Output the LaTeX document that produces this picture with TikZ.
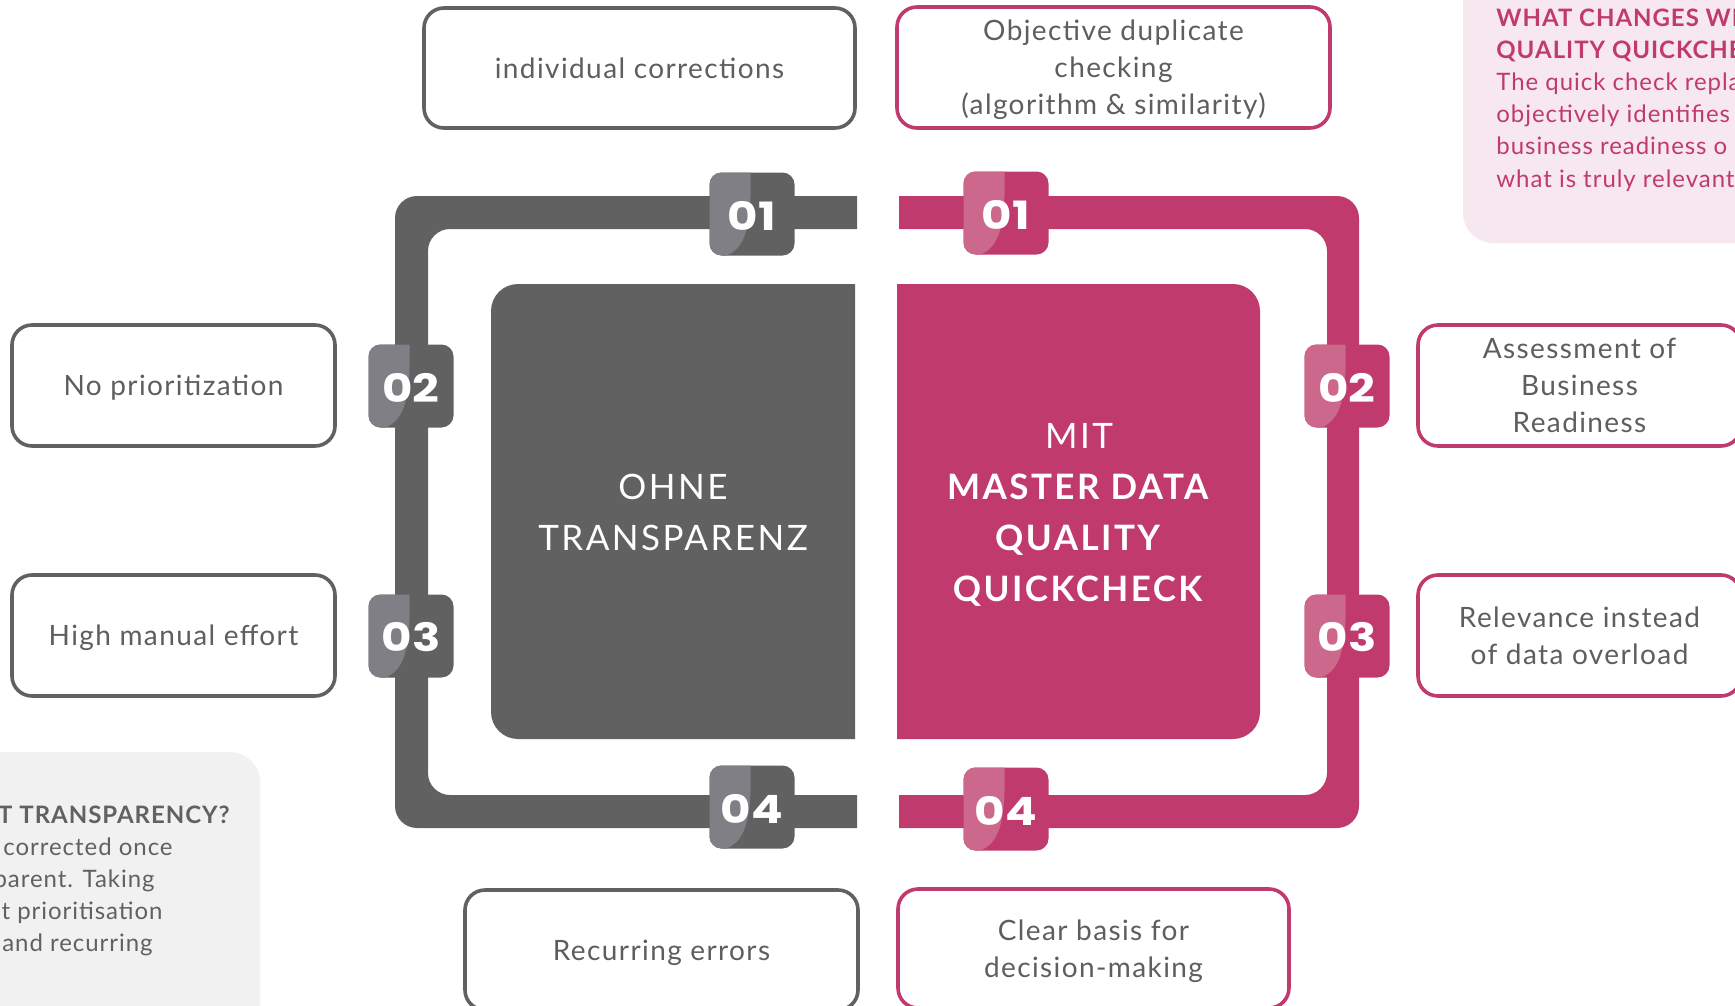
\documentclass[tikz,border=0pt]{standalone}
\usepackage{fontspec}
\setmainfont[LetterSpace=5]{Lato}
\newfontfamily\centerfont[LetterSpace=7]{Lato}
\newfontfamily\infofont[LetterSpace=4]{Lato}
\newfontfamily\badgefont[FakeStretch=1.2]{Poppins}

\definecolor{ohnegray}{HTML}{616161}
\definecolor{ohnelight}{HTML}{7F7F85}
\definecolor{mitpink}{HTML}{C03A6E}
\definecolor{mitlight}{HTML}{CC688C}
\definecolor{labeltext}{HTML}{5E5E5E}
\definecolor{pinkbg}{HTML}{F7E8EF}
\definecolor{graybg}{HTML}{F1F1F1}

\tikzset{
  tagbox/.style={draw=#1, line width=1.8pt, rounded corners=10pt, fill=white,
    text=labeltext, align=center, inner sep=0pt, text depth=0pt,
    font=\fontsize{14}{18.5}\selectfont},
  sidebox/.style={minimum width=161.5pt, minimum height=60.5pt},
  badge/.style 2 args={fill=#1, minimum width=42.5pt, minimum height=41.5pt,
    rounded corners=6pt, inner sep=0pt, text=white, text height=16pt,
    font=\badgefont\bfseries\fontsize{19.5}{19.5}\selectfont,
    path picture={\fill[#2, sharp corners] (path picture bounding box.north west)
      -- ([xshift=-0.75pt]path picture bounding box.north)
      .. controls ([yshift=-8pt]path picture bounding box.center)
      and ([xshift=-4pt,yshift=-17pt]path picture bounding box.center)
      .. ([xshift=-12.75pt]path picture bounding box.south)
      -- (path picture bounding box.south west) -- cycle;}},
  centertext/.style={align=center, text=white, text depth=0pt,
    font=\centerfont\fontsize{17.5}{25.5}\selectfont},
  infotext/.style={inner sep=0pt, font=\infofont\fontsize{12}{16}\selectfont},
}

\begin{document}
\begin{tikzpicture}[x=0.5pt, y=-0.5pt]
    \useasboundingbox (0,0) rectangle (1735,1006);
    \clip (0,0) rectangle (1735,1006);

    % info panels at the edges
    \fill[pinkbg, rounded corners=15pt] (1463,-60) rectangle (1800,243);
    \fill[graybg, rounded corners=15pt] (-60,752) rectangle (260,1070);

    \foreach \txt [count=\i from 0] in {WHAT CHANGES WI, QUALITY QUICKCHE}
        \node[infotext, anchor=base west, text=mitpink, font=\infofont\bfseries\fontsize{12}{16}\selectfont] (pinkhead\i) at (1496,{27+32*\i}) {\txt};
    \foreach \txt [count=\i from 0] in {The quick check repla, objectively identifies, business readiness o, what is truly relevant}
        \node[infotext, anchor=base west, text=mitpink] (pinkbody\i) at (1496,{91+32*\i}) {\txt};

    \node[infotext, anchor=base east, text=ohnegray, font=\infofont\bfseries\fontsize{12}{16}\selectfont] (grayhead) at (230,823) {T TRANSPARENCY?};
    \foreach \txt/\xe [count=\i from 0] in {corrected once/173, parent. Taking/155, ut prioritisation/163, and recurring/153}
        \node[infotext, anchor=base east, text=ohnegray] (graybody\i) at (\xe,{855+32*\i}) {\txt};

    % frames
    \begin{scope}
        \clip (380,180) rectangle (857,845);
        \fill[ohnegray, even odd rule, rounded corners=11pt] (395,196) rectangle (920,828) (428,229) rectangle (900,795);
    \end{scope}
    \begin{scope}
        \clip (899,180) rectangle (1380,845);
        \fill[mitpink, even odd rule, rounded corners=11pt] (840,196) rectangle (1359,828) (860,229) rectangle (1327,795);
    \end{scope}

    % center blocks
    \begin{scope}
        \clip (480,270) rectangle (855,750);
        \fill[ohnegray, rounded corners=13.5pt] (491,284) rectangle (900,739);
    \end{scope}
    \begin{scope}
        \clip (897,270) rectangle (1275,750);
        \fill[mitpink, rounded corners=13.5pt] (850,284) rectangle (1260,739);
    \end{scope}
    \node[centertext] (ohne) at (673,512) {OHNE\\TRANSPARENZ};
    \node[centertext] (mit) at (1079,512)
        {MIT\\\textbf{MASTER DATA}\\\textbf{QUALITY}\\\textbf{QUICKCHECK}};

    % badges
    \node[badge={ohnegray}{ohnelight}] (ohne1) at (752,214) {01};
    \node[badge={ohnegray}{ohnelight}] (ohne2) at (411,386) {02};
    \node[badge={ohnegray}{ohnelight}] (ohne3) at (411,636) {03};
    \node[badge={ohnegray}{ohnelight}] (ohne4) at (752,807) {04};
    \node[badge={mitpink}{mitlight}] (mit1) at (1006,213) {01};
    \node[badge={mitpink}{mitlight}] (mit2) at (1347,386) {02};
    \node[badge={mitpink}{mitlight}] (mit3) at (1347,636) {03};
    \node[badge={mitpink}{mitlight}] (mit4) at (1006,809) {04};

    % labels
    \node[tagbox=ohnegray, minimum width=215.5pt, minimum height=60pt] (corr) at (639.5,68) {individual corrections};
    \node[tagbox=ohnegray, sidebox] (noprio) at (173.5,385.5) {No prioritization};
    \node[tagbox=ohnegray, sidebox] (manual) at (173.5,635.5) {High manual effort};
    \node[tagbox=ohnegray, minimum width=196.5pt, minimum height=60pt] (recur) at (661.5,950) {Recurring errors};

    \node[tagbox=mitpink, minimum width=216.5pt, minimum height=60.5pt] (dup) at (1113.5,67.5) {Objective duplicate\\checking\\(algorithm \& similarity)};
    \node[tagbox=mitpink, sidebox] (assess) at (1579.5,385.5) {Assessment of\\Business\\Readiness};
    \node[tagbox=mitpink, sidebox] (relev) at (1579.5,635.5) {Relevance instead\\of data overload};
    \node[tagbox=mitpink, minimum width=195.5pt, minimum height=59.5pt] (basis) at (1093.5,948.5) {Clear basis for\\decision-making};

\end{tikzpicture}
\end{document}
